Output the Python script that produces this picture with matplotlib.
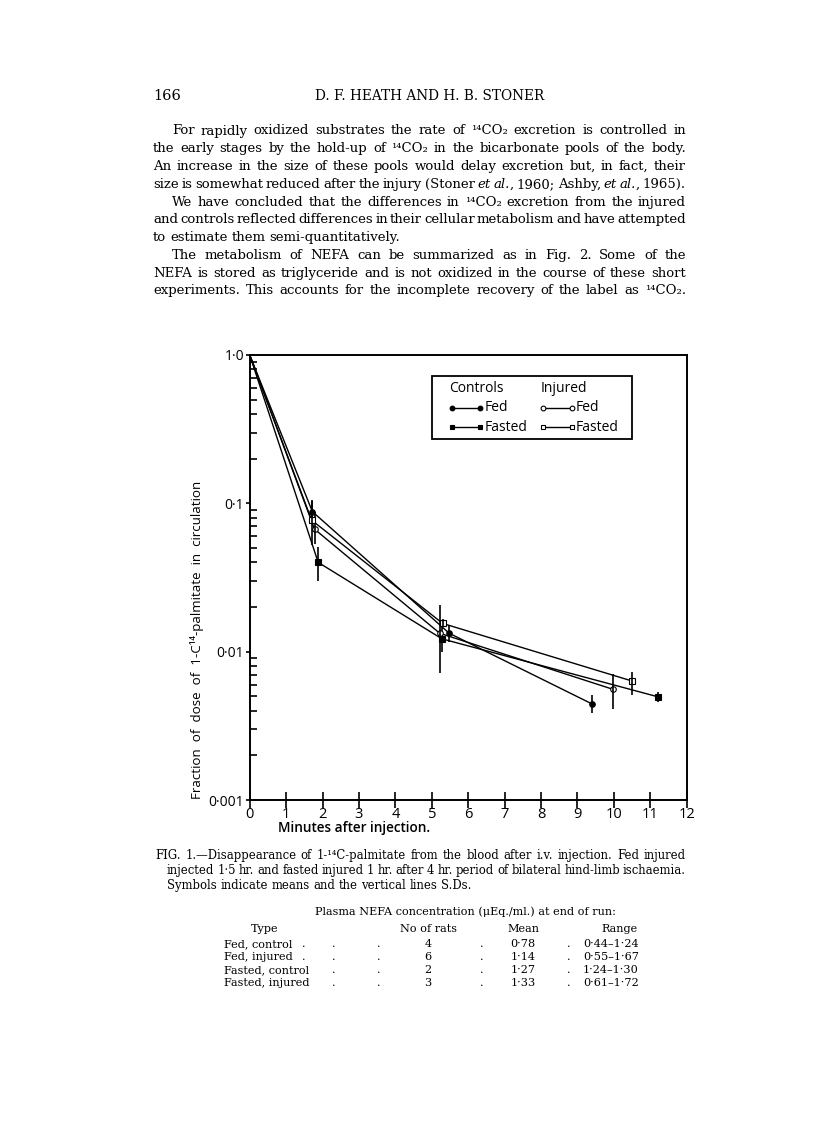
import numpy as np
import matplotlib
matplotlib.use('Agg')
import matplotlib.pyplot as plt
from matplotlib.ticker import FixedLocator, NullFormatter

W, H = 816, 1128
SERIF = ['DejaVu Serif']
SANS = ['Open Sans', 'DejaVu Sans']

# --- data (fraction of dose vs minutes) ---
ctrl_fed_x = [0, 1.72, 5.48, 9.41]
ctrl_fed_y = [1.0, 0.088, 0.0133, 0.00443]
ctrl_fed_lo = [1.0, 0.072, 0.0117, 0.00384]
ctrl_fed_hi = [1.0, 0.104, 0.0151, 0.00509]

ctrl_fast_x = [0, 1.88, 5.28, 11.2]
ctrl_fast_y = [1.0, 0.040, 0.0122, 0.00497]
ctrl_fast_lo = [1.0, 0.030, 0.0100, 0.00455]
ctrl_fast_hi = [1.0, 0.051, 0.0156, 0.00535]

inj_fed_x = [0, 1.78, 5.22, 9.98]
inj_fed_y = [1.0, 0.067, 0.0133, 0.00557]
inj_fed_lo = [1.0, 0.053, 0.0072, 0.00408]
inj_fed_hi = [1.0, 0.088, 0.0205, 0.00706]

inj_fast_x = [0, 1.70, 5.30, 10.5]
inj_fast_y = [1.0, 0.077, 0.0155, 0.00634]
inj_fast_lo = [1.0, 0.052, 0.0146, 0.00509]
inj_fast_hi = [1.0, 0.105, 0.0165, 0.00733]

ytick_vals = [0.001, 0.01, 0.1, 1.0]
ytick_labels = ['0·001', '0·01', '0·1', '1·0']
xtick_vals = list(range(0, 13))

# table under the caption
types = ['Fed, control', 'Fed, injured', 'Fasted, control', 'Fasted, injured']
n_rats = [4, 6, 2, 3]
means = [0.78, 1.14, 1.27, 1.33]
ranges = [(0.44, 1.24), (0.55, 1.67), (1.24, 1.30), (0.61, 1.72)]

body = [
    "For rapidly oxidized substrates the rate of ¹⁴CO₂ excretion is controlled in",
    "the early stages by the hold-up of ¹⁴CO₂ in the bicarbonate pools of the body.",
    "An increase in the size of these pools would delay excretion but, in fact, their",
    "size is somewhat reduced after the injury (Stoner *et al.*, 1960;  Ashby, *et al.*, 1965).",
    "We have concluded that the differences in ¹⁴CO₂ excretion from the injured",
    "and controls reflected differences in their cellular metabolism and have attempted",
    "to estimate them semi-quantitatively.",
    "The metabolism of NEFA can be summarized as in Fig. 2.  Some of the",
    "NEFA is stored as triglyceride and is not oxidized in the course of these short",
    "experiments.  This accounts for the incomplete recovery of the label as ¹⁴CO₂.",
]
indented = [0, 4, 7]
ragged = [6]

caption = [
    "FIG. 1.—Disappearance of 1-¹⁴C-palmitate from the blood after i.v. injection.  Fed injured",
    "injected 1·5 hr. and fasted injured 1 hr. after 4 hr. period of bilateral hind-limb ischaemia.",
    "Symbols indicate means and the vertical lines S.Ds.",
]

fig = plt.figure(figsize=(W / 100, H / 100), dpi=100)
renderer = fig.canvas.get_renderer()


def fx(px):
    return px / W


def fy(py):
    return 1 - py / H


def put_line(text, x0, x1, yb, size, justify=True):
    # split into words, '*' toggles italic
    italic = False
    words = []
    for tok in text.split():
        pieces = []
        for k, p in enumerate(tok.split('*')):
            if k > 0:
                italic = not italic
            if p:
                pieces.append((p, italic))
        words.append(pieces)
    made = []
    for pieces in words:
        row = []
        for p, it in pieces:
            t = fig.text(0, fy(yb), p, fontsize=size, family=SERIF,
                         style='italic' if it else 'normal', va='baseline')
            row.append((t, t.get_window_extent(renderer).width))
        made.append(row)
    total = sum(w for row in made for _, w in row)
    if justify and len(made) > 1:
        gap = (x1 - x0 - total) / (len(made) - 1)
    else:
        gap = size * 0.42
    x = x0
    for row in made:
        for t, w in row:
            t.set_x(fx(x))
            x += w
        x += gap


# header
fig.text(fx(153), fy(100), '166', fontsize=10.5, family=SERIF, va='baseline')
fig.text(fx(430), fy(100), 'D. F. HEATH AND H. B. STONER', fontsize=9.8,
         family=SERIF, va='baseline', ha='center')

for i, ln in enumerate(body):
    x0 = 172 if i in indented else 153
    put_line(ln, x0, 686, 134.5 + 17.76 * i, 9.5, justify=i not in ragged)

# --- chart ---
ax = fig.add_axes([fx(249.7), fy(800), (686.7 - 249.7) / W, (800 - 355) / H])
series = [
    (ctrl_fed_x, ctrl_fed_y, ctrl_fed_lo, ctrl_fed_hi, 'o', 'black'),
    (ctrl_fast_x, ctrl_fast_y, ctrl_fast_lo, ctrl_fast_hi, 's', 'black'),
    (inj_fed_x, inj_fed_y, inj_fed_lo, inj_fed_hi, 'o', 'white'),
    (inj_fast_x, inj_fast_y, inj_fast_lo, inj_fast_hi, 's', 'white'),
]
for x, y, lo, hi, m, fc in series:
    ax.plot(x, y, color='black', lw=1.0, marker=m, ms=4.0, mfc=fc, mec='black',
            mew=0.8, markevery=slice(1, None))
    ax.vlines(x[1:], lo[1:], hi[1:], color='black', lw=1.2)

ax.set_yscale('log')
ax.set_xlim(0, 12)
ax.set_ylim(0.001, 1.0)
ax.yaxis.set_major_locator(FixedLocator(ytick_vals))
ax.set_yticklabels(ytick_labels, family=SANS, fontsize=10)
ax.yaxis.set_minor_locator(FixedLocator(
    [m * 10.0 ** e for e in (-3, -2, -1) for m in range(2, 10)]))
ax.yaxis.set_minor_formatter(NullFormatter())
ax.tick_params(axis='y', which='major', direction='out', length=3, width=1.2, pad=1)
ax.tick_params(axis='y', which='minor', direction='in', length=5, width=1.2)
ax.set_xticks(xtick_vals)
ax.set_xticklabels([str(v) for v in xtick_vals], family=SANS, fontsize=10.5)
ax.tick_params(axis='x', direction='inout', length=12, width=1.2, pad=-1)
for s in ax.spines.values():
    s.set_linewidth(1.4)

fig.text(fx(197), fy(640),
         'Fraction  of  dose  of  1-C¹⁴-palmitate  in  circulation',
         rotation=90, ha='center', va='center', family=SANS, fontsize=9.6)
fig.text(fx(278), fy(828), 'Minutes after injection.', family=SANS,
         fontsize=9.8, fontweight='semibold', va='center')

# legend box drawn by hand
ax.add_patch(plt.Rectangle((0.4165, 0.811), 0.459, 0.142, transform=ax.transAxes,
                           fill=False, lw=1.3, ec='black'))
ax.text(0.456, 0.9236, 'Controls', transform=ax.transAxes, family=SANS,
        fontsize=10, va='center')
ax.text(0.666, 0.9236, 'Injured', transform=ax.transAxes, family=SANS,
        fontsize=10, va='center')
legend_rows = [(0.462, 0.881, 'o', 'black', 'Fed'), (0.462, 0.838, 's', 'black', 'Fasted'),
               (0.671, 0.881, 'o', 'white', 'Fed'), (0.671, 0.838, 's', 'white', 'Fasted')]
for lx, ly, m, fc, lab in legend_rows:
    ax.plot([lx, lx + 0.066], [ly, ly], transform=ax.transAxes, color='black', lw=1.0,
            marker=m, ms=3.4, mfc=fc, mec='black', mew=0.8, clip_on=False)
    ax.text(lx + 0.075, ly, lab, transform=ax.transAxes, family=SANS,
            fontsize=10, va='center')

# caption
put_line(caption[0], 155, 686, 859, 8.4)
put_line(caption[1], 167, 686, 874, 8.4)
put_line(caption[2], 167, 686, 889, 8.4, justify=False)

# table
fs = 8.1
fig.text(fx(465), fy(915), 'Plasma NEFA concentration (μEq./ml.) at end of run:',
         family=SERIF, fontsize=fs, ha='center', va='baseline')
for cx, lab in [(265, 'Type'), (428, 'No of rats'), (523, 'Mean'), (620, 'Range')]:
    fig.text(fx(cx), fy(932), lab, family=SERIF, fontsize=fs, ha='center', va='baseline')
for i in range(len(types)):
    yb = 947 + 13 * i
    fig.text(fx(224), fy(yb), types[i], family=SERIF, fontsize=fs, va='baseline')
    dots = [331.7, 376.7, 480, 566.7]
    if len(types[i]) < 14:
        dots = [301.7] + dots
    for d in dots:
        fig.text(fx(d), fy(yb), '.', family=SERIF, fontsize=fs, va='baseline')
    fig.text(fx(428), fy(yb), str(n_rats[i]), family=SERIF, fontsize=fs,
             ha='center', va='baseline')
    fig.text(fx(523), fy(yb), f'{means[i]:.2f}'.replace('.', '·'), family=SERIF,
             fontsize=fs, ha='center', va='baseline')
    lo, hi = ranges[i]
    fig.text(fx(583), fy(yb), f'{lo:.2f}–{hi:.2f}'.replace('.', '·'), family=SERIF,
             fontsize=fs, va='baseline')

fig.savefig('out.png', dpi=100)
